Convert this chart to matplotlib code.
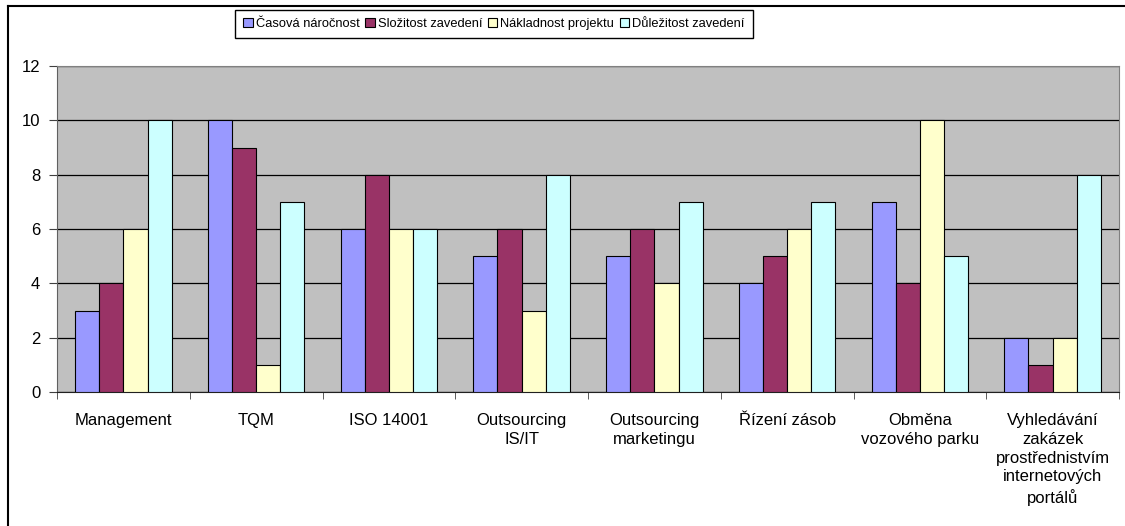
import matplotlib.pyplot as plt
import numpy as np
from matplotlib.lines import Line2D

plt.rcParams['font.family'] = ['Liberation Sans', 'DejaVu Sans']

categories = ["Management", "TQM", "ISO 14001", "Outsourcing\nIS/IT",
              "Outsourcing\nmarketingu", "Řízení zásob",
              "Obměna\nvozového parku",
              "Vyhledávání\nzakázek\nprostřednistvím\ninternetových\nportálů"]
series_names = ["Časová náročnost", "Složitost zavedení",
                "Nákladnost projektu", "Důležitost zavedení"]
casova = [3, 10, 6, 5, 5, 4, 7, 2]
slozitost = [4, 9, 8, 6, 6, 5, 4, 1]
nakladnost = [6, 1, 6, 3, 4, 6, 10, 2]
dulezitost = [10, 7, 6, 8, 7, 7, 5, 8]
colors = ["#9999FF", "#993366", "#FFFFCC", "#CCFFFF"]

W, H = 1125, 526
fig = plt.figure(figsize=(W / 100, H / 100), dpi=100)
ax = fig.add_axes([57 / W, (H - 392) / H, (1119 - 57) / W, (392 - 66) / H])
ax.set_facecolor("#C0C0C0")

x = np.arange(len(categories))
bw = 0.182
bars = []
for i, (vals, name) in enumerate(zip([casova, slozitost, nakladnost, dulezitost], series_names)):
    b = ax.bar(x + (i - 1.5) * bw, vals, bw, color=colors[i], edgecolor="black",
               linewidth=0.8, label=name, zorder=3)
    bars.append(b)

ax.set_xlim(-0.5, len(categories) - 0.5)
ax.set_ylim(0, 12)
ax.set_yticks(range(0, 13, 2))
ax.yaxis.grid(True, color="black", linewidth=0.9, zorder=1)
ax.set_axisbelow(True)

ax.set_xticks(x)
ax.set_xticklabels(categories, fontsize=12, linespacing=1.32)
ax.tick_params(axis="x", length=0, pad=15)
ax.set_xticks(np.arange(-0.5, len(categories)), minor=True)
ax.tick_params(axis="x", which="minor", length=5, color="#404040")
ax.tick_params(axis="y", length=6, labelsize=12, pad=6, color="#404040")

for s in ["top", "right"]:
    ax.spines[s].set_color("#808080")
ax.spines["left"].set_color("#606060")
ax.spines["bottom"].set_color("#202020")

leg = fig.legend(handles=bars, loc="upper center",
                 bbox_to_anchor=((240 + 748) / 2 / W, 1 - 10 / H), ncol=4,
                 fontsize=9.3, frameon=True, fancybox=False, framealpha=1,
                 edgecolor="black", handlelength=0.75, handleheight=0.75,
                 handletextpad=0.25, columnspacing=0.4, borderpad=0.62,
                 borderaxespad=0)
leg.get_frame().set_linewidth(1.0)

# outer chart border (left and top only visible)
fig.add_artist(Line2D([8 / W, 8 / W], [0, 1 - 6 / H], color="black", linewidth=1.5))
fig.add_artist(Line2D([8 / W, 1], [1 - 6 / H, 1 - 6 / H], color="black", linewidth=1.5))

fig.savefig("out.png", dpi=100)
